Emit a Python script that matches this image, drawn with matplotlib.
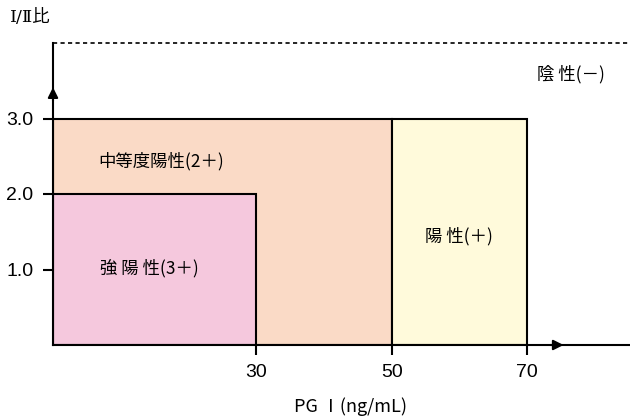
import matplotlib
matplotlib.use("Agg")
import matplotlib.pyplot as plt
from matplotlib.patches import Rectangle

plt.rcParams['font.family'] = ['Noto Sans CJK JP', 'DejaVu Sans']

# Regions: (label, x0, x1, y0, y1, color)
region_labels = ["中等度陽性(2＋)", "強 陽 性(3＋)", "陽 性(＋)"]
region_x0 = [0, 0, 50]
region_x1 = [50, 30, 70]
region_y0 = [0, 0, 0]
region_y1 = [3.0, 2.0, 3.0]
region_colors = ["#FADAC6", "#F5C8DD", "#FFFADB"]
label_pos_x = [16, 14.3, 60]
label_pos_y = [2.44, 1.02, 1.44]

neg_label = "陰 性(－)"
neg_pos = (76.5, 3.58)
neg_line_y = 4.0

x_ticks = [30, 50, 70]
x_ticklabels = ["30", "50", "70"]
y_ticks = [1.0, 2.0, 3.0]
y_ticklabels = ["1.0", "2.0", "3.0"]

fig = plt.figure(figsize=(6.3, 4.18), dpi=100)
ax = fig.add_axes([53/630, (418-345)/418, (630-53)/630, (345-43)/418])
ax.set_xlim(0, 85.2)
ax.set_ylim(0, 4.0)

for x0, x1, y0, y1, c in zip(region_x0, region_x1, region_y0, region_y1, region_colors):
    ax.add_patch(Rectangle((x0, y0), x1 - x0, y1 - y0, facecolor=c,
                           edgecolor="black", lw=1.5, zorder=2))

for t, x, y in zip(region_labels, label_pos_x, label_pos_y):
    ax.text(x, y, t, ha="center", va="center", fontsize=12.5, zorder=5)

ax.text(neg_pos[0], neg_pos[1], neg_label, ha="center", va="center", fontsize=12.5)
ax.plot([0, 85.2], [neg_line_y, neg_line_y], ls=(0, (2.5, 2.0)), color="black",
        lw=1.2, clip_on=False, zorder=3)

for s in ["top", "right"]:
    ax.spines[s].set_visible(False)
ax.spines["left"].set_linewidth(1.5)
ax.spines["bottom"].set_linewidth(1.5)
ax.spines["left"].set_zorder(6)
ax.spines["bottom"].set_zorder(6)

ax.set_xticks(x_ticks)
ax.set_xticklabels(x_ticklabels)
ax.set_yticks(y_ticks)
ax.set_yticklabels(y_ticklabels)
for lab in ax.get_xticklabels() + ax.get_yticklabels():
    lab.set_fontfamily("Liberation Sans")
    lab.set_fontsize(14)
ax.tick_params(axis="both", length=7, width=1.5, direction="out", pad=7)

# arrowheads
ax.annotate("", xy=(0, 3.45), xytext=(0, 3.2),
            arrowprops=dict(arrowstyle="-|>", color="black", lw=1.5, mutation_scale=15),
            annotation_clip=False, zorder=7)
ax.annotate("", xy=(75.8, 0), xytext=(73, 0),
            arrowprops=dict(arrowstyle="-|>", color="black", lw=1.5, mutation_scale=15),
            annotation_clip=False, zorder=7)

fig.text(10/630, 1 - 17/418, "Ⅰ/Ⅱ比", ha="left", va="center", fontsize=12.5,
         family=["DejaVu Serif", "Noto Sans CJK JP"])
fig.text(350/630, 1 - 407/418, "PG Ⅰ(ng/mL)", ha="center", va="center", fontsize=13)

fig.savefig("out.png", dpi=100)
